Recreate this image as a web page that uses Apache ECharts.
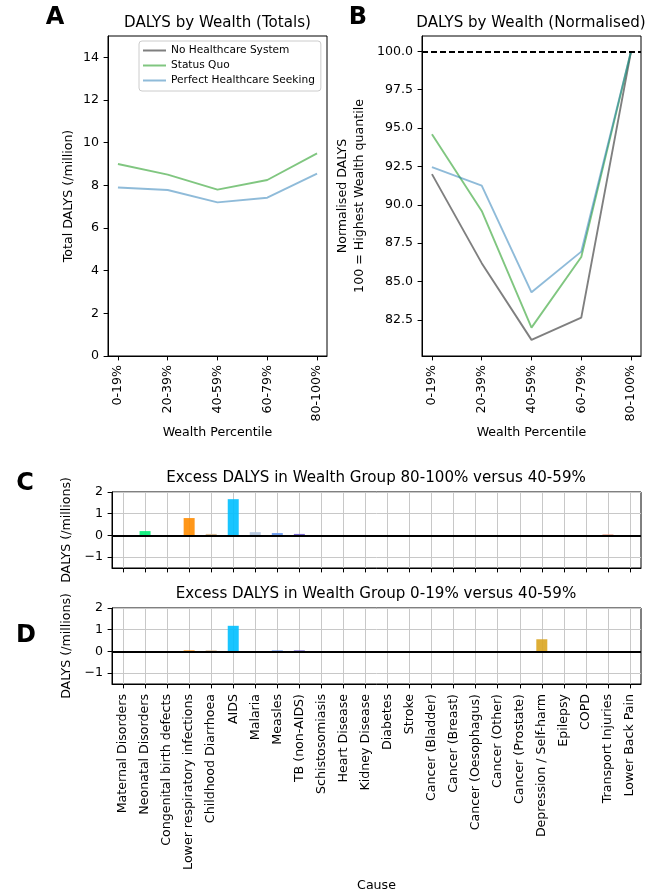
<!DOCTYPE html>
<html>
<head>
<meta charset="utf-8">
<script src="https://cdn.jsdelivr.net/npm/echarts@6/dist/echarts.min.js"></script>
<style>
html,body{margin:0;padding:0;background:#fff;}
#chart{width:654px;height:895px;}
</style>
</head>
<body>
<div id="chart"></div>
<script>
// ---------- data ----------
const wealthGroups = ['0-19%', '20-39%', '40-59%', '60-79%', '80-100%'];
const seriesNames = ['No Healthcare System', 'Status Quo', 'Perfect Healthcare Seeking'];
// Panel A: totals (/million). The "No Healthcare System" line lies above the 0-15 window.
const totalNoHealthcare = [17.5, 16.4, 15.4, 15.7, 19.0];
const totalStatusQuo = [9.0, 8.5, 7.8, 8.25, 9.5];
const totalPerfect = [7.9, 7.78, 7.2, 7.42, 8.55];
// Panel B: normalised (100 = highest wealth quantile)
const normNoHealthcare = [92.0, 86.2, 81.2, 82.65, 100];
const normStatusQuo = [94.6, 89.6, 82.0, 86.6, 100];
const normPerfect = [92.45, 91.25, 84.3, 86.95, 100];
const normReference = 100;
// Panels C & D
const causes = ['Maternal Disorders', 'Neonatal Disorders', 'Congenital birth defects',
  'Lower respiratory infections', 'Childhood Diarrhoea', 'AIDS', 'Malaria', 'Measles',
  'TB (non-AIDS)', 'Schistosomiasis', 'Heart Disease', 'Kidney Disease', 'Diabetes',
  'Stroke', 'Cancer (Bladder)', 'Cancer (Breast)', 'Cancer (Oesophagus)', 'Cancer (Other)',
  'Cancer (Prostate)', 'Depression / Self-harm', 'Epilepsy', 'COPD', 'Transport Injuries',
  'Lower Back Pain'];
const excessRichVsMiddle = [0, 0.2, 0, 0.8, 0.07, 1.67, 0.15, 0.11, 0.07, 0, 0, 0, 0, 0, 0, 0, 0, 0, 0, 0, 0, 0, 0.05, 0];
const excessPoorVsMiddle = [0, 0, 0, 0.05, 0.05, 1.18, 0, 0.05, 0.05, 0, 0, 0, 0, 0, 0, 0, 0, 0, 0, 0.56, 0, 0, 0, 0];
// ticks
const totalTicks = [0, 2, 4, 6, 8, 10, 12, 14];
const normTicks = [82.5, 85, 87.5, 90, 92.5, 95, 97.5, 100];
const excessTicks = [-1, 0, 1, 2];

// ---------- styles ----------
const lineColors = ['rgba(0,0,0,0.5)', 'rgba(44,160,44,0.6)', 'rgba(31,119,180,0.5)'];
const causeColors = ['#e8e8e8', '#00ee76', '#cccccc', '#ff8c00', '#d2b48c', '#00bfff', '#b0c4de',
  '#6495ed', '#6a5acd', '#999', '#999', '#999', '#999', '#999', '#999', '#999', '#999', '#999',
  '#999', '#daa520', '#999', '#999', '#e9967a', '#999'];
const FONT = 'DejaVu Sans';
const TICK = 12.6;

const idx = wealthGroups.map((_, i) => i);
const cidx = causes.map((_, i) => i);
const pairs = (arr) => arr.map((v, i) => [i, v]);
const minus = (v) => (v < 0 ? '\u2212' + Math.abs(v) : String(v));
const axisLineStyle = {show: true, onZero: false, lineStyle: {color: '#000', width: 1}};

function lineAxisX(gi) {
  return {
    type: 'value', gridIndex: gi, min: -0.2, max: 4.2,
    name: 'Wealth Percentile', nameLocation: 'middle', nameGap: 70,
    nameTextStyle: {color: '#000', fontSize: TICK, fontFamily: FONT},
    axisLine: axisLineStyle,
    axisTick: {show: true, length: 4.4, lineStyle: {color: '#000'}, customValues: idx},
    axisLabel: {show: true, rotate: 90, margin: 9, color: '#000', fontSize: TICK, fontFamily: FONT,
      customValues: idx, formatter: (v) => wealthGroups[Math.round(v)]},
    splitLine: {show: false}
  };
}
function barAxisX(gi, showLabels) {
  return {
    type: 'value', gridIndex: gi, min: -0.5, max: 23.5,
    name: showLabels ? 'Cause' : '', nameLocation: 'middle', nameGap: 195,
    nameTextStyle: {color: '#000', fontSize: TICK, fontFamily: FONT},
    axisLine: axisLineStyle,
    axisTick: {show: true, length: 4.4, lineStyle: {color: '#000'}, customValues: cidx},
    axisLabel: {show: showLabels, rotate: 90, margin: 10, color: '#000', fontSize: TICK, fontFamily: FONT,
      customValues: cidx, formatter: (v) => causes[Math.round(v)]},
    splitLine: {show: true, lineStyle: {color: '#c8c8c8', width: 1}}
  };
}
function barAxisY(gi) {
  return {
    type: 'value', gridIndex: gi, min: -1.5, max: 2,
    name: 'DALYS (/millions)', nameLocation: 'middle', nameGap: 35, nameRotate: 90,
    nameTextStyle: {color: '#000', fontSize: TICK, fontFamily: FONT},
    axisLine: axisLineStyle,
    axisTick: {show: true, length: 4.4, lineStyle: {color: '#000'}, customValues: excessTicks},
    axisLabel: {show: true, margin: 9, color: '#000', fontSize: TICK, fontFamily: FONT,
      customValues: excessTicks, formatter: minus},
    splitLine: {show: true, lineStyle: {color: '#c8c8c8', width: 1}}
  };
}
function lineSeries(name, data, gi, color, extra) {
  return Object.assign({
    type: 'line', name: name, xAxisIndex: gi, yAxisIndex: gi, data: pairs(data),
    showSymbol: false, symbol: 'none', clip: true,
    lineStyle: {color: color, width: 1.9}, itemStyle: {color: color}, color: color
  }, extra || {});
}
function barSeries(name, data, gi) {
  return {
    type: 'bar', name: name, xAxisIndex: gi, yAxisIndex: gi, barWidth: 11,
    data: data.map((v, i) => ({value: [i, v], itemStyle: {color: causeColors[i], opacity: 0.9}})),
    markLine: {silent: true, symbol: 'none', label: {show: false},
      lineStyle: {color: '#000', width: 2, type: 'solid'}, data: [{yAxis: 0}]}
  };
}

const gridBase = {show: true, borderColor: '#000', borderWidth: 1, backgroundColor: 'transparent',
  containLabel: false, outerBoundsMode: 'none'};

const option = {
  animation: false,
  backgroundColor: '#fff',
  textStyle: {fontFamily: FONT},
  grid: [
    Object.assign({left: 108, top: 36, width: 219, height: 320}, gridBase),
    Object.assign({left: 422, top: 36, width: 219, height: 320}, gridBase),
    Object.assign({left: 112, top: 492, width: 529, height: 76}, gridBase),
    Object.assign({left: 112, top: 608, width: 529, height: 76}, gridBase)
  ],
  legend: {
    data: seriesNames, orient: 'vertical', left: 139, top: 41,
    icon: 'rect', itemWidth: 23, itemHeight: 2, itemGap: 4,
    padding: [4, 6, 5, 4], borderColor: '#cccccc', borderWidth: 1, borderRadius: 3,
    backgroundColor: '#fff',
    textStyle: {color: '#000', fontSize: 10.6, fontFamily: FONT}
  },
  xAxis: [lineAxisX(0), lineAxisX(1), barAxisX(2, false), barAxisX(3, true)],
  yAxis: [
    {type: 'value', gridIndex: 0, min: 0, max: 15,
      name: 'Total DALYS (/million)', nameLocation: 'middle', nameGap: 33, nameRotate: 90,
      nameTextStyle: {color: '#000', fontSize: TICK, fontFamily: FONT},
      axisLine: axisLineStyle,
      axisTick: {show: true, length: 4.4, lineStyle: {color: '#000'}, customValues: totalTicks},
      axisLabel: {show: true, margin: 9, color: '#000', fontSize: TICK, fontFamily: FONT, customValues: totalTicks},
      splitLine: {show: false}},
    {type: 'value', gridIndex: 1, min: 80.15, max: 101.0,
      name: 'Normalised DALYS\n100 = Highest Wealth quantile', nameLocation: 'middle', nameGap: 54, nameRotate: 90,
      nameTextStyle: {color: '#000', fontSize: TICK, fontFamily: FONT, lineHeight: 17},
      axisLine: axisLineStyle,
      axisTick: {show: true, length: 4.4, lineStyle: {color: '#000'}, customValues: normTicks},
      axisLabel: {show: true, margin: 9, color: '#000', fontSize: TICK, fontFamily: FONT, customValues: normTicks,
        formatter: (v) => v.toFixed(1)},
      splitLine: {show: false}},
    barAxisY(2), barAxisY(3)
  ],
  series: [
    lineSeries(seriesNames[0], totalNoHealthcare, 0, lineColors[0]),
    lineSeries(seriesNames[1], totalStatusQuo, 0, lineColors[1]),
    lineSeries(seriesNames[2], totalPerfect, 0, lineColors[2]),
    lineSeries(seriesNames[0], normNoHealthcare, 1, lineColors[0], {
      markLine: {silent: true, symbol: 'none', label: {show: false},
        lineStyle: {color: '#000', width: 1.9, type: [6, 3]}, data: [{yAxis: normReference}]}
    }),
    lineSeries(seriesNames[1], normStatusQuo, 1, lineColors[1]),
    lineSeries(seriesNames[2], normPerfect, 1, lineColors[2]),
    barSeries('80-100% vs 40-59%', excessRichVsMiddle, 2),
    barSeries('0-19% vs 40-59%', excessPoorVsMiddle, 3)
  ],
  graphic: [
    {type: 'text', x: 55, y: 18, style: {text: 'A', font: 'bold 24px "DejaVu Sans"', fill: '#000', align: 'center', verticalAlign: 'middle'}},
    {type: 'text', x: 358, y: 18, style: {text: 'B', font: 'bold 24px "DejaVu Sans"', fill: '#000', align: 'center', verticalAlign: 'middle'}},
    {type: 'text', x: 25, y: 484, style: {text: 'C', font: 'bold 24px "DejaVu Sans"', fill: '#000', align: 'center', verticalAlign: 'middle'}},
    {type: 'text', x: 26, y: 636, style: {text: 'D', font: 'bold 24px "DejaVu Sans"', fill: '#000', align: 'center', verticalAlign: 'middle'}},
    {type: 'text', x: 217.5, y: 23, style: {text: 'DALYS by Wealth (Totals)', font: '15.1px "DejaVu Sans"', fill: '#000', align: 'center', verticalAlign: 'middle'}},
    {type: 'text', x: 531, y: 23, style: {text: 'DALYS by Wealth (Normalised)', font: '15.1px "DejaVu Sans"', fill: '#000', align: 'center', verticalAlign: 'middle'}},
    {type: 'text', x: 376, y: 478, style: {text: 'Excess DALYS in Wealth Group 80-100% versus 40-59%', font: '15.1px "DejaVu Sans"', fill: '#000', align: 'center', verticalAlign: 'middle'}},
    {type: 'text', x: 376, y: 594, style: {text: 'Excess DALYS in Wealth Group 0-19% versus 40-59%', font: '15.1px "DejaVu Sans"', fill: '#000', align: 'center', verticalAlign: 'middle'}}
  ]
};

const chart = echarts.init(document.getElementById('chart'), null, {renderer: 'canvas'});
chart.setOption(option);
</script>
</body>
</html>
